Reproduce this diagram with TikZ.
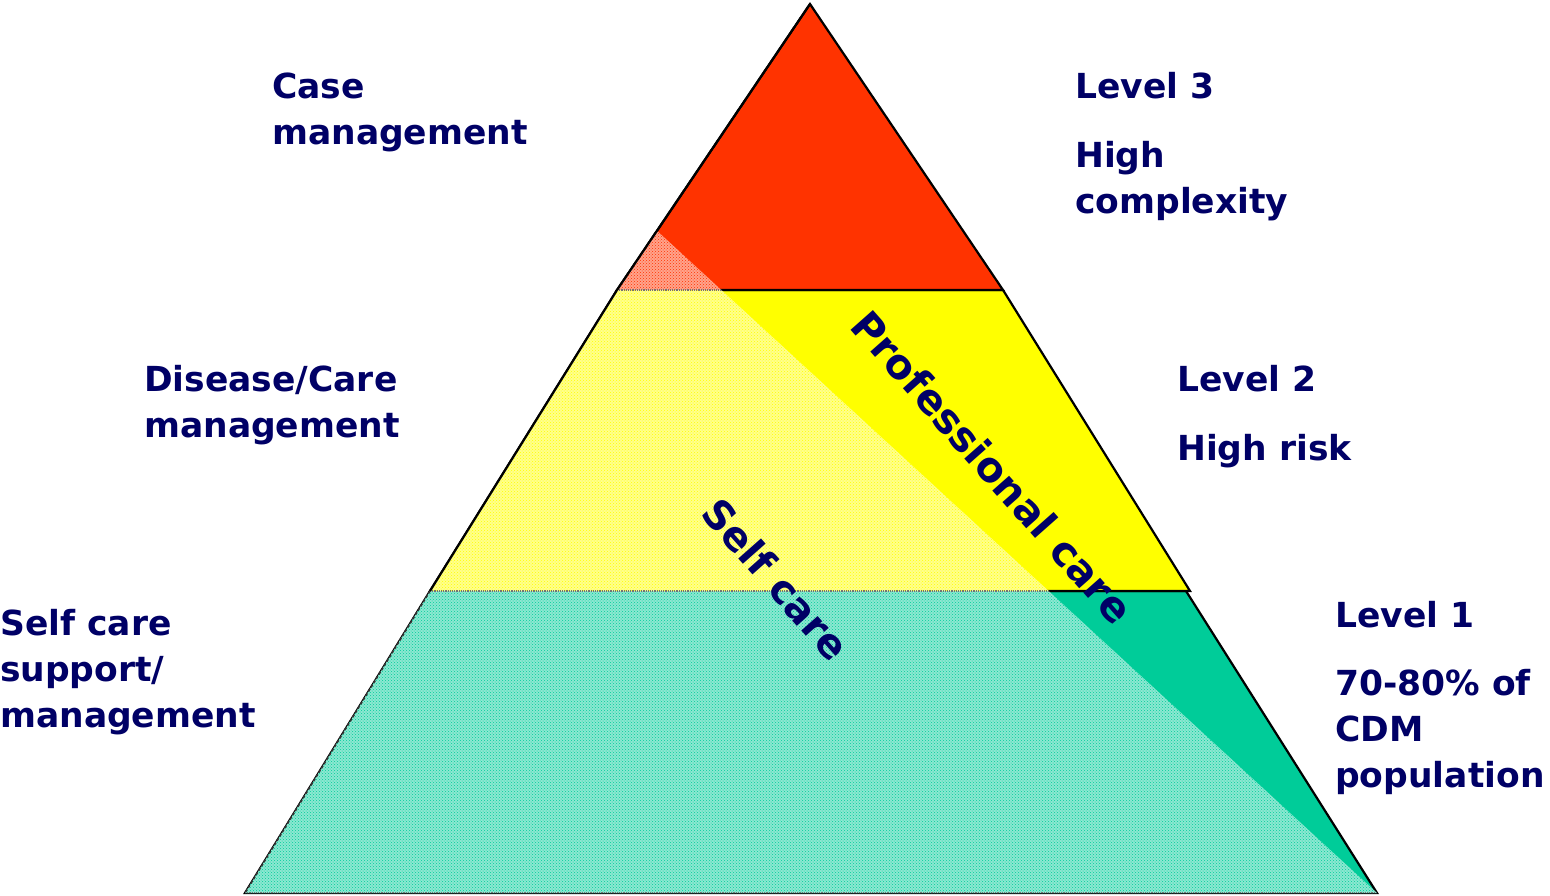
\documentclass[tikz,border=0pt]{standalone}
\usepackage{fontspec}
\setmainfont{DejaVu Sans}
\usetikzlibrary{patterns}
\definecolor{navy}{RGB}{0,0,102}
\definecolor{cred}{RGB}{255,51,0}
\definecolor{cyel}{RGB}{255,255,0}
\definecolor{cteal}{RGB}{0,204,153}
\begin{document}
\begin{tikzpicture}[x=1pt,y=-1pt,
  lbl/.style={anchor=base west, inner sep=0, text=navy, font=\fontsize{34.5}{40}\selectfont\bfseries},
  rot/.style={anchor=base, inner sep=0, text=navy, rotate=-48.5, font=\fontsize{41}{48}\selectfont\bfseries},
  layer/.style={draw=black, line width=2.2, line join=miter},
  stip/.style={fill=#1!45!white, postaction={pattern=crosshatch dots, pattern color=#1}},
  edge/.style={draw=black, line width=2.2}]
\useasboundingbox (0,0) rectangle (1550,895);
\coordinate (A) at (810,4);
\coordinate (RL) at (617,290);
\coordinate (RR) at (1003,290);
\coordinate (YL) at (430,591);
\coordinate (YR) at (1190,591);
\coordinate (TR) at (1186,591);
\coordinate (BL) at (245,893);
\coordinate (BR) at (1377,893);
\coordinate (D) at (655,229);
% solid layers
\path[layer, fill=cteal] (YL) -- (TR) -- (BR) -- (BL) -- cycle;
\path[layer, fill=cyel] (RL) -- (RR) -- (YR) -- (YL) -- cycle;
\path[layer, fill=cred] (A) -- (RR) -- (RL) -- cycle;
% stippled (self care) part
\begin{scope}
  \clip (D) -- (BR) -- (BL) -- (YL) -- (RL) -- cycle;
  \path[stip=cteal] (YL) -- (TR) -- (BR) -- (BL) -- cycle;
  \path[stip=cyel] (RL) -- (RR) -- (YR) -- (YL) -- cycle;
  \path[stip=cred] (A) -- (RR) -- (RL) -- cycle;
  \draw[black!55, densely dotted, line width=1.2] (RL) -- (RR) (YL) -- (YR) (BL) -- (BR);
\end{scope}
\draw[edge] (A) -- (RL);
\draw[edge] (RL) -- (YL);
\draw[edge, black!80, densely dashed, line width=1.6] (YL) -- (BL);
% labels
\node[lbl] (c1) at (272,98) {Case};
\node[lbl] (c2) at (272,144) {management};
\node[lbl] (d1) at (144,391) {Disease/Care};
\node[lbl] (d2) at (144,437) {management};
\node[lbl] (s1) at (0,635) {Self care};
\node[lbl] (s2) at (0,681) {support/};
\node[lbl] (s3) at (0,727) {management};
\node[lbl] (l3) at (1075,98) {Level 3};
\node[lbl] (l3a) at (1075,167) {High};
\node[lbl] (l3b) at (1075,213) {complexity};
\node[lbl] (l2) at (1177,391) {Level 2};
\node[lbl] (l2a) at (1177,460) {High risk};
\node[lbl] (l1) at (1335,627) {Level 1};
\node[lbl] (l1a) at (1335,695) {70-80\% of};
\node[lbl] (l1b) at (1335,741) {CDM};
\node[lbl] (l1c) at (1335,787) {population};
\node[rot] (pc) at (981,477) {Professional care};
\node[rot, font=\fontsize{40}{48}\selectfont\bfseries] (sc) at (765,589) {Self care};
\end{tikzpicture}
\end{document}
